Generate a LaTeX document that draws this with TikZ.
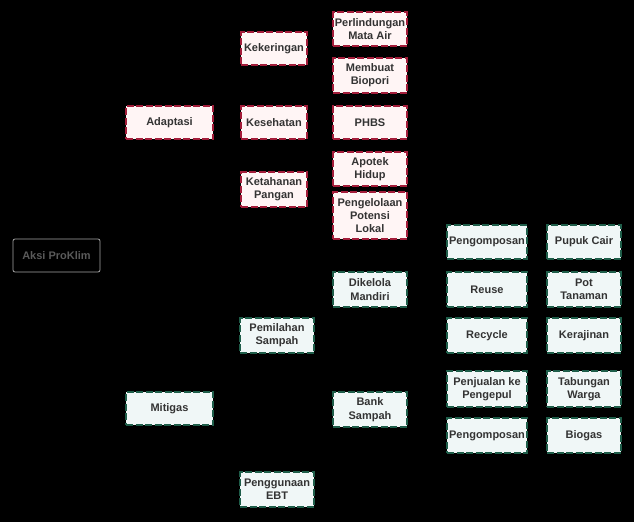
\documentclass[tikz,border=0pt]{standalone}
\usepackage{fontspec}
\setmainfont{Liberation Sans}
\usepackage{tikz}
\usetikzlibrary{positioning}
\definecolor{darkred}{RGB}{163,29,58}
\definecolor{darkteal}{RGB}{31,94,74}
\definecolor{textgray}{RGB}{51,51,51}
\definecolor{rootgray}{RGB}{90,90,90}

\begin{document}
\begin{tikzpicture}[x=1pt, y=-1pt,
        base/.style={rectangle, line width=1.3pt, dash pattern=on 7pt off 2.5pt, align=center, inner sep=0pt, minimum height=34pt, text=textgray, font=\fontsize{11}{13.3}\selectfont\bfseries},
        adapt/.style={base, draw=darkred, fill=white!96!red},
        mitig/.style={base, draw=darkteal, fill=white!94!teal},
        root/.style={rectangle, draw=gray!70, thick, rounded corners=2pt, fill=black, minimum width=87pt, minimum height=33pt, text=rootgray, font=\fontsize{11}{13.3}\selectfont\bfseries}]

        \fill[black] (0,0) rectangle (634,522);

        \node[root] (aksi) at (56.5,255.5) {Aksi ProKlim};

        \node[adapt, minimum width=87pt, minimum height=33pt] (adaptasi) at (169.5,122.5) {Adaptasi};
        \node[mitig, minimum width=87pt, minimum height=33pt] (mitigasi) at (169.5,408.5) {Mitigas};

        \node[adapt, minimum width=66pt, minimum height=33pt] (kekeringan) at (274,48.5) {Kekeringan};
        \node[adapt, minimum width=66pt, minimum height=33pt] (kesehatan) at (274,122.5) {Kesehatan};
        \node[adapt, minimum width=66pt, minimum height=35pt] (ketahanan) at (274,189.5) {Ketahanan\\Pangan};

        \node[adapt, minimum width=74pt] (mataair) at (370,29) {Perlindungan\\Mata Air};
        \node[adapt, minimum width=74pt, minimum height=35pt] (biopori) at (370,75.5) {Membuat\\Biopori};
        \node[adapt, minimum width=74pt, minimum height=33pt] (phbs) at (370,122.5) {PHBS};
        \node[adapt, minimum width=74pt] (apotek) at (370,169) {Apotek\\Hidup};
        \node[adapt, minimum width=74pt, minimum height=47pt] (potensi) at (370,215.5) {Pengelolaan\\Potensi\\Lokal};

        \node[mitig, minimum width=74pt, minimum height=35pt] (pemilahan) at (277,335.5) {Pemilahan\\Sampah};
        \node[mitig, minimum width=74pt, minimum height=35pt] (ebt) at (277,489.5) {Penggunaan\\EBT};

        \node[mitig, minimum width=74pt, minimum height=35pt] (mandiri) at (370,289.5) {Dikelola\\Mandiri};
        \node[mitig, minimum width=74pt, minimum height=35pt] (bank) at (370,409.5) {Bank\\Sampah};

        \node[mitig, minimum width=80pt] (kompos) at (487,242) {Pengomposan};
        \node[mitig, minimum width=80pt, minimum height=35pt] (reuse) at (487,289.5) {Reuse};
        \node[mitig, minimum width=80pt, minimum height=35pt] (recycle) at (487,335.5) {Recycle};
        \node[mitig, minimum width=80pt, minimum height=36pt] (penjualan) at (487,389) {Penjualan ke\\Pengepul};
        \node[mitig, minimum width=80pt, minimum height=35pt] (komposbank) at (487,435.5) {Pengomposan};

        \node[mitig, minimum width=74pt] (pupuk) at (584,242) {Pupuk Cair};
        \node[mitig, minimum width=74pt, minimum height=35pt] (pot) at (584,289.5) {Pot\\Tanaman};
        \node[mitig, minimum width=74pt, minimum height=35pt] (kerajinan) at (584,335.5) {Kerajinan};
        \node[mitig, minimum width=74pt, minimum height=36pt] (tabungan) at (584,389) {Tabungan\\Warga};
        \node[mitig, minimum width=74pt, minimum height=35pt] (biogas) at (584,435.5) {Biogas};

    \end{tikzpicture}
\end{document}
